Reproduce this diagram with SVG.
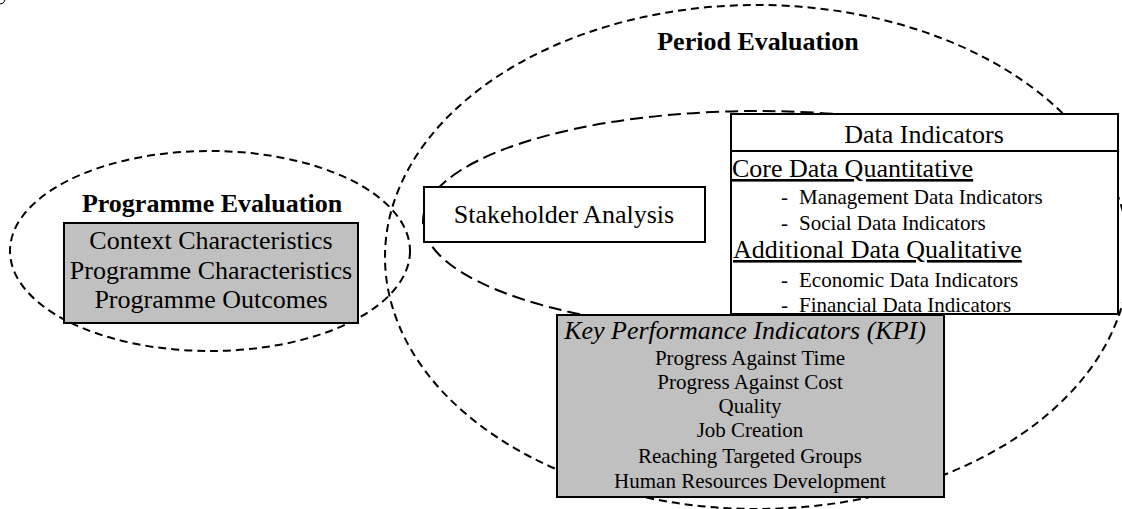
<svg xmlns="http://www.w3.org/2000/svg" width="1122" height="509" viewBox="0 0 1122 509" font-family="'Liberation Serif', 'Times New Roman', serif">
<style>
.dash{fill:none;stroke:#000;stroke-width:2;stroke-dasharray:8 5}
.dash2{fill:none;stroke:#000;stroke-width:2;stroke-dasharray:13 6}
.box{stroke:#000;stroke-width:2}
text{font-family:'Liberation Serif','Times New Roman',serif;fill:#000}
.b{font-weight:bold;font-size:26px}
.l{font-size:26px}
.s{font-size:21px}
.c{text-anchor:middle}
</style>
<rect width="1122" height="509" fill="#fff"/>
<path d="M0,4 Q4,4 5,0" fill="none" stroke="#000" stroke-width="1"/>
<g id="connectors"></g>
<g id="programme-evaluation">
<ellipse class="dash" cx="210" cy="251" rx="200" ry="100"/>
<text class="b c" x="212" y="212">Programme Evaluation</text>
<rect class="box" x="64" y="223" width="294" height="100" fill="#c0c0c0"/>
<text class="l c" x="211" y="249">Context Characteristics</text>
<text class="l c" x="211" y="279">Programme Characteristics</text>
<text class="l c" x="211" y="308">Programme Outcomes</text>
</g>
<g id="period-evaluation">
<ellipse class="dash" cx="757" cy="257" rx="372" ry="252"/>
<text class="b c" x="758" y="50">Period Evaluation</text>
</g>
<g id="analysis-region">
<ellipse class="dash2" cx="758" cy="221" rx="335" ry="110"/>
</g>
<g id="stakeholder-analysis">
<rect class="box" x="424" y="187" width="281" height="55" fill="#fff"/>
<text class="l c" x="564" y="223">Stakeholder Analysis</text>
</g>
<g id="data-indicators">
<rect class="box" x="731" y="114" width="387" height="200" fill="#fff"/>
<line x1="731" y1="151" x2="1118" y2="151" stroke="#000" stroke-width="2"/>
<text class="l c" x="924" y="143">Data Indicators</text>
<text class="l" x="732" y="177" text-decoration="underline">Core Data Quantitative</text>
<text class="s" x="781" y="204">-</text>
<text class="s" x="799" y="204">Management Data Indicators</text>
<text class="s" x="781" y="230">-</text>
<text class="s" x="799" y="230">Social Data Indicators</text>
<text class="l" x="733" y="258" text-decoration="underline">Additional Data Qualitative</text>
<text class="s" x="781" y="287">-</text>
<text class="s" x="799" y="287">Economic Data Indicators</text>
<text class="s" x="781" y="312">-</text>
<text class="s" x="799" y="312">Financial Data Indicators</text>
</g>
<g id="kpi">
<rect class="box" x="557" y="315" width="387" height="182" fill="#c0c0c0"/>
<text class="l c" x="745" y="339" font-style="italic">Key Performance Indicators (KPI)</text>
<text class="s c" x="750" y="365">Progress Against Time</text>
<text class="s c" x="750" y="389">Progress Against Cost</text>
<text class="s c" x="750" y="413">Quality</text>
<text class="s c" x="750" y="437">Job Creation</text>
<text class="s c" x="750" y="463">Reaching Targeted Groups</text>
<text class="s c" x="750" y="488">Human Resources Development</text>
</g>
</svg>
